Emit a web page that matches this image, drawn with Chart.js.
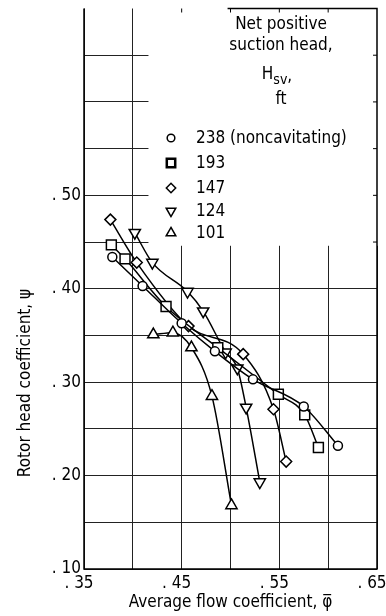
<!DOCTYPE html>
<html lang="en">
<head>
<meta charset="UTF-8">
<title>Rotor head coefficient</title>
<script src="https://cdn.jsdelivr.net/npm/chart.js"></script>
<style>
    body { margin: 0; padding: 0; background: #fff; }
    #wrap { width: 386px; height: 616px; }
</style>
</head>
<body>
<div id="wrap"><canvas id="chart" width="386" height="616"></canvas></div>
<script>
    // Net positive suction head, ft
    var headLabels = ['238 (noncavitating)', '193', '147', '124', '101'];

    // average flow coefficient (x) and rotor head coefficient (y), one pair per head
    var flow238 = [0.379, 0.410, 0.450, 0.484, 0.523, 0.575, 0.610];
    var psi238  = [0.434, 0.403, 0.363, 0.333, 0.303, 0.274, 0.232];

    var flow193 = [0.378, 0.392, 0.434, 0.487, 0.549, 0.576, 0.590];
    var psi193  = [0.447, 0.432, 0.381, 0.337, 0.287, 0.265, 0.230];

    var flow147 = [0.377, 0.404, 0.457, 0.513, 0.544, 0.557];
    var psi147  = [0.474, 0.428, 0.360, 0.330, 0.271, 0.215];

    var flow124 = [0.402, 0.420, 0.456, 0.472, 0.495, 0.507, 0.516, 0.530];
    var psi124  = [0.460, 0.428, 0.397, 0.376, 0.332, 0.315, 0.273, 0.193];

    var flow101 = [0.421, 0.441, 0.460, 0.481, 0.501];
    var psi101  = [0.351, 0.353, 0.337, 0.285, 0.168];

    var FONT = "'Liberation Sans Narrow', 'DejaVu Sans Condensed', sans-serif";
    Chart.defaults.font.family = FONT;
    Chart.defaults.color = '#000';

    function pts(xs, ys) {
        return xs.map(function (x, i) { return { x: x, y: ys[i] }; });
    }

    var markers = [
        { style: 'circle',   radius: 4.5, rotation: 0 },
        { style: 'rect',     radius: 7,   rotation: 0 },
        { style: 'rectRot',  radius: 5.5, rotation: 0 },
        { style: 'triangle', radius: 6.5, rotation: 180 },
        { style: 'triangle', radius: 6.5, rotation: 0 }
    ];
    var series = [pts(flow238, psi238), pts(flow193, psi193), pts(flow147, psi147),
                  pts(flow124, psi124), pts(flow101, psi101)];

    var datasets = series.map(function (data, i) {
        return {
            label: headLabels[i],
            data: data,
            showLine: true,
            cubicInterpolationMode: 'monotone',
            borderColor: '#000',
            borderWidth: 1.5,
            pointStyle: markers[i].style,
            pointRadius: markers[i].radius,
            pointRotation: markers[i].rotation,
            pointBackgroundColor: '#fff',
            pointBorderColor: '#000',
            pointBorderWidth: 1.5
        };
    });

    // white legend box, partial frame, legend and y title
    var framePlugin = {
        id: 'frame',
        beforeDatasetsDraw: function (chart) {
            var c = chart.ctx, xs = chart.scales.x, ys = chart.scales.y, a = chart.chartArea;
            c.save();
            // legend sits over a blank region
            var bx = xs.getPixelForValue(0.416), by = ys.getPixelForValue(0.446);
            c.fillStyle = '#fff';
            c.fillRect(bx, a.top - 2, a.right - bx + 1, by - a.top + 2);

            c.strokeStyle = '#000';
            c.lineWidth = 1.5;
            c.beginPath();
            c.moveTo(a.left, a.top); c.lineTo(a.left, a.bottom); c.lineTo(a.right, a.bottom); c.lineTo(a.right, a.top);
            c.lineTo(xs.getPixelForValue(0.497), a.top);
            c.stroke();

            c.lineWidth = 1;
            c.beginPath();
            [0.45, 0.50, 0.55, 0.60].forEach(function (v) {
                var px = xs.getPixelForValue(v);
                c.moveTo(px, a.top); c.lineTo(px, a.top + 4);
            });
            [0.45, 0.50, 0.55, 0.60, 0.65].forEach(function (v) {
                var py = ys.getPixelForValue(v);
                c.moveTo(a.right, py); c.lineTo(a.right - 4, py);
            });
            c.stroke();

            // legend title
            c.fillStyle = '#000';
            c.textAlign = 'center';
            c.textBaseline = 'middle';
            c.font = '17px ' + FONT;
            c.fillText('Net positive', 281, 25);
            c.fillText('suction head,', 281, 46);
            c.textAlign = 'left';
            var wH = c.measureText('H').width;
            c.font = '14px ' + FONT;
            var wS = c.measureText('sv').width;
            c.font = '17px ' + FONT;
            var wC = c.measureText(',').width;
            var hx = 277 - (wH + wS + wC) / 2;
            c.fillText('H', hx, 75);
            c.font = '14px ' + FONT;
            c.fillText('sv', hx + wH, 80);
            c.font = '17px ' + FONT;
            c.fillText(',', hx + wH + wS, 77);
            c.textAlign = 'center';
            c.fillText('ft', 281, 100);

            // legend entries
            var rowY = [138, 163, 188, 211, 233];
            c.textAlign = 'left';
            chart.data.datasets.forEach(function (ds, i) {
                c.fillStyle = '#fff';
                c.strokeStyle = '#000';
                c.lineWidth = i === 1 ? 2.5 : 1.5;
                Chart.helpers.drawPoint(c, {
                    pointStyle: ds.pointStyle,
                    radius: ds.pointRadius * 0.85,
                    rotation: ds.pointRotation,
                    borderWidth: c.lineWidth
                }, 171, rowY[i]);
                c.fillStyle = '#000';
                c.fillText(ds.label, 196, rowY[i] + 1);
            });
            c.restore();
        },
        afterDraw: function (chart) {
            var c = chart.ctx;
            c.save();
            c.translate(26, 383);
            c.rotate(-Math.PI / 2);
            c.fillStyle = '#000';
            c.textAlign = 'center';
            c.textBaseline = 'middle';
            c.font = '17px ' + FONT;
            c.fillText('Rotor head coefficient, \u03c8', 0, 0);
            c.restore();
        }
    };

    var ctx = document.getElementById('chart').getContext('2d');
    var myChart = new Chart(ctx, {
        type: 'scatter',
        data: { datasets: datasets },
        options: {
            responsive: false,
            animation: false,
            layout: { padding: { top: 8, right: 9, left: 0, bottom: 0 } },
            plugins: { legend: { display: false }, tooltip: { enabled: false } },
            scales: {
                x: {
                    min: 0.35, max: 0.65,
                    ticks: {
                        stepSize: 0.05, autoSkip: false, maxRotation: 0, padding: 4,
                        labelOffset: -5,
                        font: { size: 17 },
                        callback: function (v) {
                            var n = Math.round(v * 100);
                            return n % 10 === 5 ? '. ' + n : '';
                        }
                    },
                    grid: { color: '#222', lineWidth: 1, drawTicks: false },
                    border: { display: false },
                    title: {
                        display: true,
                        text: 'Average flow coefficient, \u03c6\u0305',
                        font: { size: 17 },
                        padding: { top: 0, bottom: 3 }
                    },
                    afterFit: function (s) {
                        s.height = 47;
                        s.paddingLeft = 0;
                        s.paddingRight = 0;
                    }
                },
                y: {
                    min: 0.10, max: 0.70,
                    ticks: {
                        stepSize: 0.05, autoSkip: false, padding: 3,
                        font: { size: 17 },
                        callback: function (v) {
                            var n = Math.round(v * 100);
                            return (n % 10 === 0 && n <= 50) ? '. ' + n : '';
                        }
                    },
                    grid: {
                        drawTicks: false, lineWidth: 1,
                        color: function (c) { return c.tick && c.tick.value > 0.69 ? 'rgba(0,0,0,0)' : '#222'; }
                    },
                    border: { display: false },
                    afterFit: function (s) {
                        s.width = 84;
                        s.paddingTop = 0;
                        s.paddingBottom = 0;
                    }
                }
            }
        },
        plugins: [framePlugin]
    });
</script>
</body>
</html>
